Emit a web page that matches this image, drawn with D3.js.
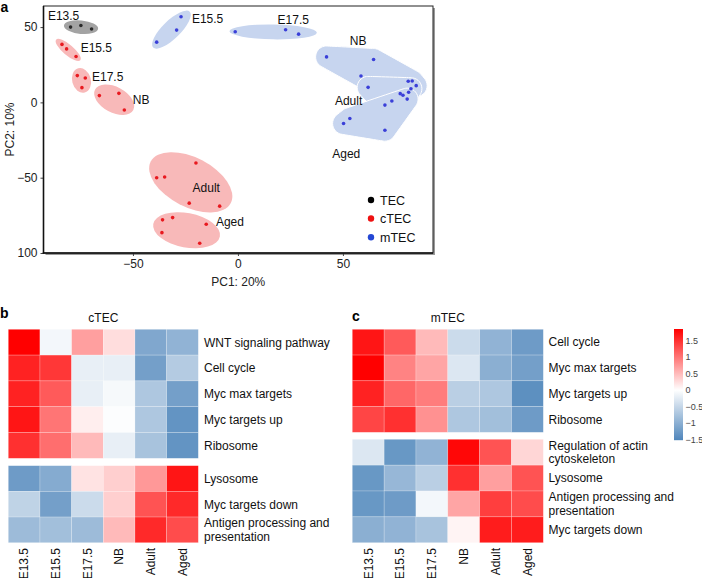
<!DOCTYPE html>
<html>
<head>
<meta charset="utf-8">
<script src="https://cdn.jsdelivr.net/npm/d3@7"></script>
<style>
  html, body { margin: 0; padding: 0; background: #fff; }
  svg { display: block; font-family: "Liberation Sans", Arial, sans-serif; }
</style>
</head>
<body>
<svg id="fig" width="702" height="578"></svg>
<script>
// ---------------- DATA ----------------
// PCA samples: [cell type, stage, PC1, PC2]
const tecSamples = [
  ["TEC","E13.5",-79.7,50.0],["TEC","E13.5",-74.8,51.1],["TEC","E13.5",-69.7,48.7]
];
const ctecSamples = [
  ["cTEC","E15.5",-83.8,38.5],["cTEC","E15.5",-81.6,35.5],["cTEC","E15.5",-77.1,30.5],
  ["cTEC","E17.5",-76.5,17.8],["cTEC","E17.5",-72.7,16.2],["cTEC","E17.5",-74.3,9.8],
  ["cTEC","NB",-66.0,4.5],["cTEC","NB",-56.7,6.0],["cTEC","NB",-54.1,-5.1],
  ["cTEC","Adult",-38.7,-50.0],["cTEC","Adult",-34.9,-49.5],["cTEC","Adult",-20.0,-40.2],["cTEC","Adult",-23.2,-66.9],["cTEC","Adult",-8.7,-68.9],
  ["cTEC","Aged",-35.9,-78.0],["cTEC","Aged",-31.1,-76.5],["cTEC","Aged",-36.2,-86.5],["cTEC","Aged",-15.1,-80.9],["cTEC","Aged",-18.2,-93.5]
];
const mtecSamples = [
  ["mTEC","E15.5",-38.7,40.0],["mTEC","E15.5",-29.2,48.0],["mTEC","E15.5",-27.1,56.9],
  ["mTEC","E17.5",-1.3,46.9],["mTEC","E17.5",22.7,48.2],["mTEC","E17.5",28.9,45.3],
  ["mTEC","NB",42.2,30.2],["mTEC","NB",64.6,28.5],["mTEC","NB",58.6,17.5],["mTEC","NB",81.1,14.0],["mTEC","NB",83.0,14.2],["mTEC","NB",84.9,11.1],
  ["mTEC","Adult",62.0,10.0],["mTEC","Adult",70.0,-1.8],["mTEC","Adult",73.3,0.9],["mTEC","Adult",77.3,5.8],["mTEC","Adult",78.6,4.7],["mTEC","Adult",81.3,6.7],["mTEC","Adult",82.4,9.1],
  ["mTEC","Aged",50.3,-14.0],["mTEC","Aged",53.3,-10.7],["mTEC","Aged",70.0,-18.5],["mTEC","Aged",80.6,2.2]
];
// group annotation: [cell, stage, shape, labelPC1, labelPC2]
const groupLabels = [
  ["TEC","E13.5","ellipse",-90.5,57.3],
  ["cTEC","E15.5","ellipse",-74.9,36.2],
  ["cTEC","E17.5","ellipse",-69.5,17.3],
  ["cTEC","NB","ellipse",-50.1,2.0],
  ["cTEC","Adult","ellipse",-21.6,-56.5],
  ["cTEC","Aged","ellipse",-10.5,-79.1],
  ["mTEC","E15.5","ellipse",-21.9,55.3],
  ["mTEC","E17.5","ellipse",18.9,55.1],
  ["mTEC","NB","hull",53.3,41.3],
  ["mTEC","Adult","hull",46.2,1.3],
  ["mTEC","Aged","hull",44.9,-33.8]
];
const pcaXTicks = [-50, 0, 50];
const pcaXTickLabels = ["\u221250", "0", "50"];
const pcaYTicks = [-100, -50, 0, 50];
const pcaYTickLabels = ["100", "\u221250", "0", "50"];
const cellTypes = ["TEC", "cTEC", "mTEC"];

// Heatmaps
const stages = ["E13.5","E15.5","E17.5","NB","Adult","Aged"];
const ctecTopPathways = ["WNT signaling pathway","Cell cycle","Myc max targets","Myc targets up","Ribosome"];
const ctecTopValues = [
  [1.85,-0.10,0.70,0.25,-1.10,-0.95],
  [1.60,1.45,-0.20,-0.20,-1.20,-0.65],
  [1.60,1.20,-0.20,-0.08,-0.70,-1.20],
  [1.70,1.00,0.12,-0.03,-0.70,-1.35],
  [1.50,1.05,0.50,-0.20,-0.75,-1.35]
];
const ctecBottomPathways = ["Lysosome","Myc targets down","Antigen processing and\npresentation"];
const ctecBottomValues = [
  [-1.25,-1.05,0.20,0.35,0.75,1.70],
  [-0.55,-1.20,-0.45,0.35,1.25,1.55],
  [-0.85,-0.80,-0.85,0.50,1.55,1.30]
];
const mtecTopPathways = ["Cell cycle","Myc max targets","Myc targets up","Ribosome"];
const mtecTopValues = [
  [1.70,1.20,0.50,-0.45,-0.95,-1.25],
  [1.85,0.90,0.65,-0.30,-1.00,-1.20],
  [1.60,1.10,0.95,-0.60,-0.70,-1.40],
  [1.35,1.50,0.80,-0.70,-0.80,-1.25]
];
const mtecBottomPathways = ["Regulation of actin\ncytoskeleton","Lysosome","Antigen processing and\npresentation","Myc targets down"];
const mtecBottomValues = [
  [-0.30,-1.30,-0.95,1.80,1.25,0.30],
  [-1.30,-0.90,-0.60,1.50,0.70,1.25],
  [-1.30,-1.25,-0.10,0.65,1.40,1.30],
  [-1.00,-0.95,-0.75,0.08,1.65,1.65]
];
const colorbarTicks = [1.5, 1, 0.5, 0, -0.5, -1, -1.5];
const colorbarTickLabels = ["1.5","1","0.5","0","\u22120.5","\u22121","\u22121.5"];
const colorDomain = [-1.52, 0, 1.85];

// ---------------- STYLE ----------------
const FONT = '"Liberation Sans", Arial, sans-serif';
const pointColor = {TEC:"#2b2b2b", cTEC:"#e8191f", mTEC:"#3a3fd8"};
const legendColor = {TEC:"#000000", cTEC:"#ee1111", mTEC:"#2447d4"};
const fillColor = {TEC:"#a3a3a3", cTEC:"#f8b9b9", mTEC:"#c7d5ef"};

const svg = d3.select("#fig");

// ---------------- PANEL A: PCA ----------------
const plot = {left: 43.5, right: 433, top: 6, bottom: 253};
const x = d3.scaleLinear().domain([-92.6, 92.9]).range([plot.left, plot.right]);
const y = d3.scaleLinear().domain([-100, 64]).range([plot.bottom, plot.top]);

// frame with shadow
svg.append("rect").attr("x", plot.left + 2).attr("y", plot.top + 2)
  .attr("width", plot.right - plot.left).attr("height", plot.bottom - plot.top)
  .attr("fill", "#9a9a9a");
svg.append("rect").attr("x", plot.left).attr("y", plot.top)
  .attr("width", plot.right - plot.left).attr("height", plot.bottom - plot.top)
  .attr("fill", "#fff").attr("stroke", "#222").attr("stroke-width", 1);

const samples = tecSamples.concat(ctecSamples, mtecSamples).map(d => ({cell: d[0], stage: d[1], pc1: d[2], pc2: d[3]}));
const gPlot = svg.append("g");

// minimum volume enclosing ellipse (Khachiyan)
function mvee(P) {
  const N = P.length, d = 2;
  let u = new Array(N).fill(1 / N);
  for (let it = 0; it < 20000; it++) {
    const X = [[0,0,0],[0,0,0],[0,0,0]];
    P.forEach((p, i) => {
      const q = [p[0], p[1], 1];
      for (let a = 0; a < 3; a++) for (let b = 0; b < 3; b++) X[a][b] += u[i] * q[a] * q[b];
    });
    const Xi = inv3(X);
    let M = P.map(p => {
      const q = [p[0], p[1], 1];
      let s = 0;
      for (let a = 0; a < 3; a++) for (let b = 0; b < 3; b++) s += q[a] * Xi[a][b] * q[b];
      return s;
    });
    let j = d3.maxIndex(M);
    const step = (M[j] - d - 1) / ((d + 1) * (M[j] - 1));
    if (!(step > 1e-9)) break;
    u = u.map(v => v * (1 - step));
    u[j] += step;
  }
  const cx = d3.sum(P, (p, i) => u[i] * p[0]);
  const cy = d3.sum(P, (p, i) => u[i] * p[1]);
  let sa = 0, sb = 0, sc = 0;
  P.forEach((p, i) => { sa += u[i] * p[0] * p[0]; sb += u[i] * p[0] * p[1]; sc += u[i] * p[1] * p[1]; });
  sa -= cx * cx; sb -= cx * cy; sc -= cy * cy;
  const mid = (sa + sc) / 2, rad = Math.sqrt(((sa - sc) / 2) ** 2 + sb * sb);
  const l1 = mid + rad, l2 = Math.max(mid - rad, 0);
  const ang = 0.5 * Math.atan2(2 * sb, sa - sc);
  return {cx, cy, rx: Math.sqrt(d * l1), ry: Math.sqrt(d * l2), angle: ang * 180 / Math.PI};
}
function inv3(m) {
  const [a,b,c] = m[0], [d,e,f] = m[1], [g,h,i] = m[2];
  const A = e*i - f*h, B = -(d*i - f*g), C = d*h - e*g;
  const det = a*A + b*B + c*C;
  return [
    [A/det, -(b*i - c*h)/det, (b*f - c*e)/det],
    [B/det, (a*i - c*g)/det, -(a*f - c*d)/det],
    [C/det, -(a*h - b*g)/det, (a*e - b*d)/det]
  ];
}

const ellipsePad = 5, hullPad = 11;
const gShapes = gPlot.append("g");
groupLabels.forEach(gl => {
  const [cell, stage, shape] = gl;
  const pts = samples.filter(s => s.cell === cell && s.stage === stage).map(s => [x(s.pc1), y(s.pc2)]);
  if (shape === "ellipse") {
    const e = mvee(pts);
    gShapes.append("ellipse")
      .attr("cx", e.cx).attr("cy", e.cy)
      .attr("rx", e.rx + ellipsePad).attr("ry", e.ry + ellipsePad)
      .attr("transform", `rotate(${e.angle},${e.cx},${e.cy})`)
      .attr("fill", fillColor[cell]);
  } else {
    const ring = [];
    pts.forEach(p => {
      for (let k = 0; k < 36; k++) {
        const t = k / 36 * 2 * Math.PI;
        ring.push([p[0] + hullPad * Math.cos(t), p[1] + hullPad * Math.sin(t)]);
      }
    });
    const hull = d3.polygonHull(ring);
    gShapes.append("path")
      .attr("d", d3.line().curve(d3.curveBasisClosed)(hull))
      .attr("fill", fillColor[cell]).attr("stroke", "#fff").attr("stroke-width", 1);
  }
});

gPlot.append("g").selectAll("circle").data(samples).join("circle")
  .attr("cx", d => x(d.pc1)).attr("cy", d => y(d.pc2)).attr("r", 1.8)
  .attr("fill", d => pointColor[d.cell]);

gPlot.append("g").selectAll("text").data(groupLabels).join("text")
  .attr("x", d => x(d[3])).attr("y", d => y(d[4]))
  .attr("dy", "0.36em")
  .attr("font-size", 12).attr("fill", "#111")
  .text(d => d[1]);

// axes
const xAxis = svg.append("g").attr("transform", `translate(0,${plot.bottom})`)
  .call(d3.axisBottom(x).tickValues(pcaXTicks).tickSize(3).tickPadding(3)
    .tickFormat((d, i) => pcaXTickLabels[i]));
const yAxis = svg.append("g").attr("transform", `translate(${plot.left},0)`)
  .call(d3.axisLeft(y).tickValues(pcaYTicks).tickSize(3).tickPadding(3)
    .tickFormat((d, i) => pcaYTickLabels[i]));
[xAxis, yAxis].forEach(g => {
  g.select(".domain").remove();
  g.selectAll(".tick line").attr("stroke", "#444");
  g.selectAll(".tick text").attr("font-size", 12).attr("font-family", FONT).attr("fill", "#222");
});
svg.append("line").attr("x1", plot.left).attr("x2", plot.left).attr("y1", plot.top).attr("y2", plot.bottom + 0.75)
  .attr("stroke", "#111").attr("stroke-width", 1.6);
svg.append("line").attr("x1", plot.left - 0.75).attr("x2", plot.right).attr("y1", plot.bottom).attr("y2", plot.bottom)
  .attr("stroke", "#111").attr("stroke-width", 1.6);

svg.append("text").attr("x", (plot.left + plot.right) / 2).attr("y", 282).attr("dy", "0.36em")
  .attr("text-anchor", "middle").attr("font-size", 12).attr("fill", "#222").text("PC1: 20%");
svg.append("text").attr("transform", `translate(10,${(plot.top + plot.bottom) / 2}) rotate(-90)`)
  .attr("dy", "0.36em").attr("text-anchor", "middle").attr("font-size", 12).attr("fill", "#222").text("PC2: 10%");

// legend
const legend = svg.append("g");
cellTypes.forEach((c, i) => {
  const ly = [200, 218.5, 237.3][i];
  legend.append("circle").attr("cx", 371).attr("cy", ly).attr("r", 3.2).attr("fill", legendColor[c]);
  legend.append("text").attr("x", 380).attr("y", ly).attr("dy", "0.36em")
    .attr("font-size", 12.5).attr("fill", "#111").text(c);
});

// panel letters
svg.append("text").attr("x", 0.5).attr("y", 12).attr("font-size", 14).attr("font-weight", "bold").text("a");
svg.append("text").attr("x", 0).attr("y", 318).attr("font-size", 14).attr("font-weight", "bold").text("b");
svg.append("text").attr("x", 352).attr("y", 321).attr("font-size", 14).attr("font-weight", "bold").text("c");

// ---------------- HEATMAPS ----------------
const color = d3.scaleLinear().domain(colorDomain).range(["#4f86bb", "#ffffff", "#ff0000"]).interpolate(d3.interpolateRgb);

function heatBlock(x0, x1, y0, y1, pathways, values, labelX) {
  const xs = d3.scaleBand().domain(stages).range([x0, x1]);
  const ys = d3.scaleBand().domain(pathways).range([y0, y1]);
  const g = svg.append("g");
  pathways.forEach((p, r) => {
    stages.forEach((s, c) => {
      g.append("rect").attr("x", xs(s)).attr("y", ys(p))
        .attr("width", xs.bandwidth()).attr("height", ys.bandwidth())
        .attr("fill", color(values[r][c]))
        .attr("stroke", "rgba(255,255,255,0.35)").attr("stroke-width", 0.6);
    });
    const lines = p.split("\n");
    const cy = ys(p) + ys.bandwidth() / 2;
    const lh = 13.5;
    lines.forEach((ln, k) => {
      g.append("text").attr("x", labelX)
        .attr("y", cy + (k - (lines.length - 1) / 2) * lh).attr("dy", "0.36em")
        .attr("font-size", 12).attr("fill", "#111").text(ln);
    });
  });
  return xs;
}
function colLabels(xs, yTop) {
  svg.append("g").selectAll("text").data(stages).join("text")
    .attr("transform", d => `translate(${xs(d) + xs.bandwidth() / 2},${yTop}) rotate(-90)`)
    .attr("text-anchor", "end").attr("dy", "0.36em")
    .attr("font-size", 12).attr("fill", "#111").text(d => d);
}

// b: cTEC
heatBlock(8.3, 198.3, 329.3, 458.3, ctecTopPathways, ctecTopValues, 204);
const xsB = heatBlock(8.3, 198.3, 465.7, 542.7, ctecBottomPathways, ctecBottomValues, 204);
colLabels(xsB, 548);
svg.append("text").attr("x", 103.3).attr("y", 318).attr("dy", "0.36em").attr("text-anchor", "middle")
  .attr("font-size", 12).attr("fill", "#111").text("cTEC");

// c: mTEC
heatBlock(352.3, 543.3, 329.3, 432.3, mtecTopPathways, mtecTopValues, 548.5);
const xsC = heatBlock(352.3, 543.3, 439.3, 542.7, mtecBottomPathways, mtecBottomValues, 548.5);
colLabels(xsC, 548);
svg.append("text").attr("x", 447.8).attr("y", 318).attr("dy", "0.36em").attr("text-anchor", "middle")
  .attr("font-size", 12).attr("fill", "#111").text("mTEC");

// colour bar
const cbY = d3.scaleLinear().domain([-1.52, 1.85]).range([440.2, 329]);
const defs = svg.append("defs");
const grad = defs.append("linearGradient").attr("id", "cbgrad").attr("x1", 0).attr("y1", 1).attr("x2", 0).attr("y2", 0);
d3.range(0, 1.0001, 0.05).forEach(t => {
  const v = colorDomain[0] + t * (colorDomain[2] - colorDomain[0]);
  grad.append("stop").attr("offset", t).attr("stop-color", color(v));
});
svg.append("rect").attr("x", 674).attr("y", cbY(1.85)).attr("width", 9)
  .attr("height", cbY(-1.52) - cbY(1.85)).attr("fill", "url(#cbgrad)");
svg.append("g").selectAll("text").data(colorbarTicks).join("text")
  .attr("x", 685.5).attr("y", d => cbY(d)).attr("dy", "0.36em")
  .attr("font-size", 9).attr("fill", "#444")
  .text((d, i) => colorbarTickLabels[i]);
</script>
</body>
</html>
